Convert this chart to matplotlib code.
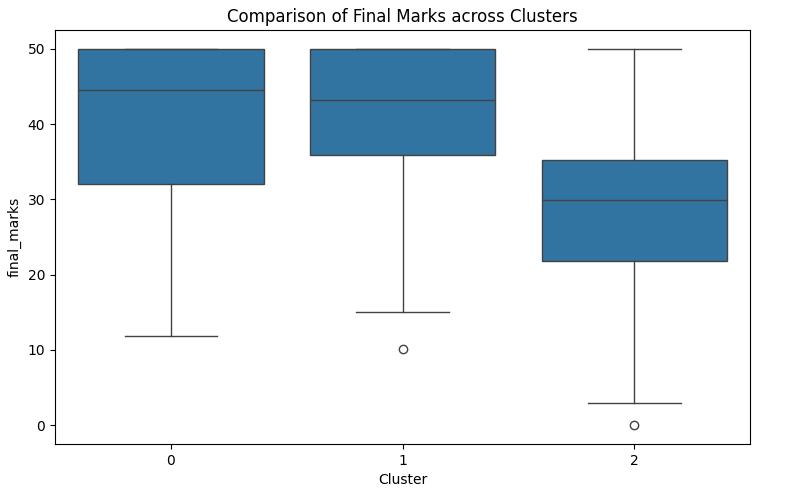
import matplotlib
matplotlib.use("Agg")
import matplotlib.pyplot as plt

# values
clusters = ["0", "1", "2"]
whislo = [11.9, 15.0, 3.0]
q1 = [32.05, 35.85, 21.75]
med = [44.5, 43.2, 29.95]
q3 = [50.0, 50.0, 35.2]
whishi = [50.0, 50.0, 50.0]
fliers = [[], [10.15], [0.0]]

stats = []
for i, name in enumerate(clusters):
    stats.append({
        "label": name,
        "whislo": whislo[i],
        "q1": q1[i],
        "med": med[i],
        "q3": q3[i],
        "whishi": whishi[i],
        "fliers": fliers[i],
    })

fig = plt.figure(figsize=(8, 4.95), dpi=100)
ax = fig.add_axes([55 / 800, 1 - 444 / 495, 695 / 800, 414 / 495])

line_col = "#424242"
lw = 1.0
ax.bxp(
    stats,
    positions=range(len(clusters)),
    widths=0.8,
    patch_artist=True,
    showcaps=True,
    boxprops=dict(facecolor="#3274a1", edgecolor=line_col, linewidth=lw),
    medianprops=dict(color=line_col, linewidth=lw),
    whiskerprops=dict(color=line_col, linewidth=lw),
    capprops=dict(color=line_col, linewidth=lw),
    capwidths=0.4,
    flierprops=dict(marker="o", markerfacecolor="none", markeredgecolor=line_col,
                    markersize=6, markeredgewidth=lw),
)

ax.set_xlim(-0.5, 2.5)
ax.set_ylim(-2.5, 52.5)
ax.set_xticks(range(len(clusters)))
ax.set_xticklabels(clusters)
ax.set_yticks([0, 10, 20, 30, 40, 50])
ax.set_title("Comparison of Final Marks across Clusters", fontsize=12)
ax.set_xlabel("Cluster")
ax.set_ylabel("final_marks")

fig.savefig("out.png", dpi=100)
